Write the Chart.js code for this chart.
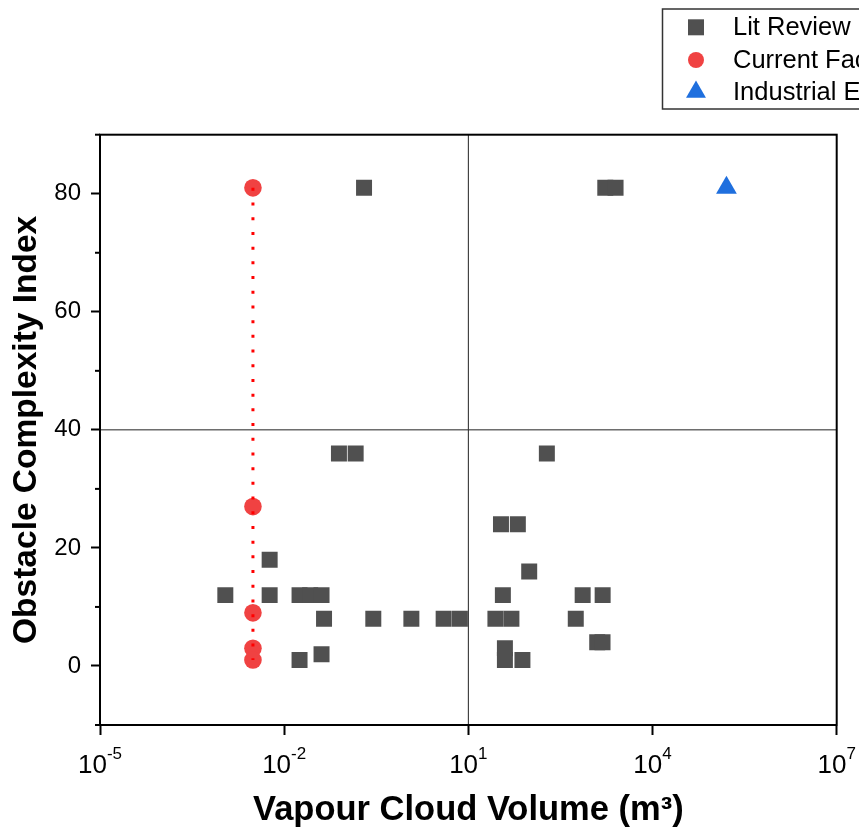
<!DOCTYPE html>
<html>
<head>
<meta charset="utf-8">
<title>Obstacle Complexity vs Vapour Cloud Volume</title>
<script src="https://cdn.jsdelivr.net/npm/chart.js@4.4.0/dist/chart.umd.min.js"></script>
<style>
  html, body { margin: 0; padding: 0; background: #fff; overflow: hidden; }
  canvas { display: block; }
</style>
</head>
<body>
<canvas id="volumeChart" width="859" height="832"></canvas>
<script>
// values
const litVolume = [0.2, 1700, 2500,
  0.078, 0.146, 190,
  34, 64,
  0.0058,
  98,
  0.0011, 0.0058, 0.0178, 0.0265, 0.0406, 36.5, 728, 1540,
  0.0446, 0.283, 1.18, 3.96, 7.28, 27.6, 50.3, 562,
  1256, 1533,
  39.4,
  0.0406,
  0.0178, 39.4, 76];
const litIndex = [81, 81, 81,
  36, 36, 36,
  24, 24,
  18,
  16,
  12, 12, 12, 12, 12, 12, 12, 12,
  8, 8, 8, 8, 8, 8, 8, 8,
  4, 4,
  3,
  2,
  1, 1, 1];
const facilityVolume = [0.0031, 0.0031, 0.0031, 0.0031, 0.0031];
const facilityIndex = [81, 27, 9, 3, 1];
const industrialVolume = [1.6e5];
const industrialIndex = [81];

const seriesLabels = ["Lit Review", "Current Facility", "Industrial Explosion"];
const xTickValues = [1e-5, 1e-2, 1e1, 1e4, 1e7];
const yTickValues = [0, 20, 40, 60, 80];
const yMinorTicks = [-10, 10, 30, 50, 70, 90];
const quadrantVolume = 10;
const quadrantIndex = 40;

const FONT = "'Liberation Sans', Arial, sans-serif";
const GREY = "#505050";
const RED = "#f04242";
const BLUE = "#1f6fde";

const toPoints = (xs, ys) => xs.map((x, i) => ({ x: x, y: ys[i] }));

// frame, minor ticks, 10^n labels and the legend box
const extras = {
  id: "extras",
  afterDraw(chart) {
    const { ctx, chartArea: a, scales } = chart;
    const xs = scales.x, ys = scales.y;
    ctx.save();
    ctx.strokeStyle = "#000";
    ctx.lineWidth = 2;
    ctx.strokeRect(a.left, a.top, a.right - a.left, a.bottom - a.top);

    yMinorTicks.forEach(v => {
      const y = ys.getPixelForValue(v);
      ctx.beginPath();
      ctx.moveTo(a.left - 5, y);
      ctx.lineTo(a.left, y);
      ctx.stroke();
    });

    ctx.fillStyle = "#000";
    ctx.textAlign = "left";
    ctx.textBaseline = "alphabetic";
    xTickValues.forEach(v => {
      const exp = String(Math.round(Math.log10(v)));
      ctx.font = "26px " + FONT;
      const wBase = ctx.measureText("10").width;
      ctx.font = "17px " + FONT;
      const wExp = ctx.measureText(exp).width;
      const x0 = xs.getPixelForValue(v) - (wBase + wExp) / 2;
      ctx.font = "26px " + FONT;
      ctx.fillText("10", x0, 773);
      ctx.font = "17px " + FONT;
      ctx.fillText(exp, x0 + wBase, 759);
    });

    // legend
    const lx = 662.5, ly = 9, lh = 100;
    ctx.lineWidth = 1.5;
    ctx.strokeStyle = "#333";
    ctx.strokeRect(lx, ly, 300, lh);
    const mx = 696;
    const rows = [27.3, 60, 92];
    ctx.fillStyle = GREY;
    ctx.fillRect(mx - 8, rows[0] - 8, 16, 16);
    ctx.fillStyle = RED;
    ctx.beginPath();
    ctx.arc(mx, rows[1], 8, 0, Math.PI * 2);
    ctx.fill();
    ctx.fillStyle = BLUE;
    const r = 11.5;
    ctx.beginPath();
    ctx.moveTo(mx, rows[2] - r);
    ctx.lineTo(mx + r * Math.sqrt(3) / 2, rows[2] + r / 2);
    ctx.lineTo(mx - r * Math.sqrt(3) / 2, rows[2] + r / 2);
    ctx.closePath();
    ctx.fill();
    ctx.fillStyle = "#000";
    ctx.font = "25.5px " + FONT;
    ctx.textBaseline = "middle";
    seriesLabels.forEach((t, i) => ctx.fillText(t, 733, rows[i] + 1));
    ctx.restore();
  }
};

new Chart(document.getElementById("volumeChart"), {
  type: "scatter",
  data: {
    datasets: [
      {
        label: seriesLabels[1] + " line",
        data: toPoints(facilityVolume, facilityIndex),
        showLine: true,
        borderColor: "#ff0000",
        borderWidth: 3,
        borderDash: [3, 11.7],
        pointRadius: 0,
        fill: false
      },
      {
        label: seriesLabels[1],
        data: toPoints(facilityVolume, facilityIndex),
        backgroundColor: RED,
        borderWidth: 0,
        pointStyle: "circle",
        pointRadius: 8.8
      },
      {
        label: seriesLabels[2],
        data: toPoints(industrialVolume, industrialIndex),
        backgroundColor: BLUE,
        borderWidth: 0,
        pointStyle: "triangle",
        pointRadius: 12
      },
      {
        label: seriesLabels[0],
        data: toPoints(litVolume, litIndex),
        backgroundColor: GREY,
        borderWidth: 0,
        pointStyle: "rect",
        pointRadius: 11.3
      },
      {
        label: "quadrant x",
        data: [{ x: quadrantVolume, y: yMinorTicks[0] }, { x: quadrantVolume, y: yMinorTicks[yMinorTicks.length - 1] }],
        showLine: true,
        borderColor: "#222",
        borderWidth: 1,
        pointRadius: 0
      },
      {
        label: "quadrant y",
        data: [{ x: xTickValues[0], y: quadrantIndex }, { x: xTickValues[xTickValues.length - 1], y: quadrantIndex }],
        showLine: true,
        borderColor: "#222",
        borderWidth: 1,
        pointRadius: 0
      }
    ]
  },
  options: {
    responsive: false,
    animation: false,
    devicePixelRatio: 1,
    layout: { padding: { top: 134.7, right: 22.3, left: 0, bottom: 0 } },
    plugins: {
      legend: { display: false },
      tooltip: { enabled: false }
    },
    scales: {
      x: {
        type: "logarithmic",
        position: "bottom",
        min: xTickValues[0],
        max: xTickValues[xTickValues.length - 1],
        afterBuildTicks: s => { s.ticks = xTickValues.map(v => ({ value: v, major: true })); },
        afterFit: s => { s.height = 107; },
        grid: { drawOnChartArea: false, drawTicks: true, tickLength: 10, tickWidth: 2, tickColor: "#000" },
        border: { display: true, color: "#000", width: 2 },
        ticks: { display: false },
        title: {
          display: true,
          text: "Vapour Cloud Volume (m³)",
          color: "#000",
          font: { family: FONT, size: 34.5, weight: "bold", lineHeight: 1.2 },
          padding: { top: 0, bottom: 1 }
        }
      },
      y: {
        type: "linear",
        min: yMinorTicks[0],
        max: yMinorTicks[yMinorTicks.length - 1],
        afterBuildTicks: s => { s.ticks = yTickValues.map(v => ({ value: v })); },
        afterFit: s => { s.width = 100; },
        grid: { drawOnChartArea: false, drawTicks: true, tickLength: 9, tickWidth: 2, tickColor: "#000" },
        border: { display: true, color: "#000", width: 2 },
        ticks: { color: "#000", padding: 10, font: { family: FONT, size: 24 } },
        title: {
          display: true,
          text: "Obstacle Complexity Index",
          color: "#000",
          font: { family: FONT, size: 33.5, weight: "bold", lineHeight: 1.2 },
          padding: { top: 7, bottom: 0 }
        }
      }
    }
  },
  plugins: [extras]
});
</script>
</body>
</html>
